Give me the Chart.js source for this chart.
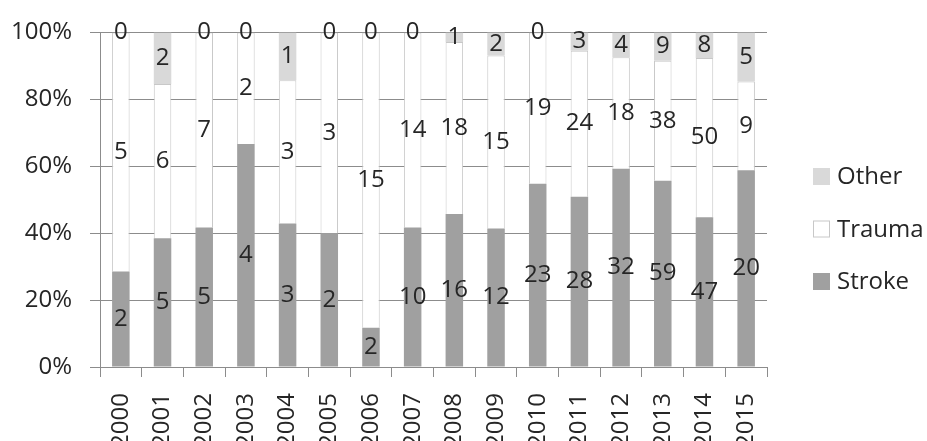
<!DOCTYPE html>
<html>
<head>
<meta charset="utf-8">
<script src="https://cdn.jsdelivr.net/npm/chart.js@4"></script>
<style>
  html, body { margin: 0; padding: 0; background: #fff; }
  #wrap { width: 927px; height: 441px; position: relative; }
</style>
</head>
<body>
<div id="wrap"><canvas id="chart"></canvas></div>
<script>
// Cases per year by cause
const years  = ['2000','2001','2002','2003','2004','2005','2006','2007','2008','2009','2010','2011','2012','2013','2014','2015'];
const stroke = [2, 5, 5, 4, 3, 2, 2, 10, 16, 12, 23, 28, 32, 59, 47, 20];
const trauma = [5, 6, 7, 2, 3, 3, 15, 14, 18, 15, 19, 24, 18, 38, 50, 9];
const other  = [0, 2, 0, 0, 1, 0, 0, 0, 1, 2, 0, 3, 4, 9, 8, 5];

const FONT = "'Open Sans', 'Liberation Sans', sans-serif";
const TEXT = '#262626';
const GRID = '#8c8c8c';

const totals = years.map((_, i) => stroke[i] + trauma[i] + other[i]);
const share = arr => arr.map((v, i) => v / totals[i] * 100);

// Count printed in the middle of each stacked segment
const segmentLabels = {
  id: 'segmentLabels',
  afterDatasetsDraw(chart) {
    const ctx = chart.ctx;
    ctx.save();
    ctx.font = `24px ${FONT}`;
    ctx.fillStyle = TEXT;
    ctx.textAlign = 'center';
    ctx.textBaseline = 'middle';
    chart.data.datasets.forEach((ds, di) => {
      const meta = chart.getDatasetMeta(di);
      meta.data.forEach((bar, j) => {
        const p = bar.getProps(['x', 'y', 'base'], true);
        ctx.fillText(String(ds.counts[j]), p.x, (p.y + p.base) / 2);
      });
    });
    ctx.restore();
  }
};

// Legend on the right, top item is the top of the stack
const sideLegend = {
  id: 'sideLegend',
  afterDraw(chart) {
    const ctx = chart.ctx;
    const items = chart.data.datasets.slice().reverse();
    const boxX = 813, box = 17, firstY = 176.5, step = 52.5;
    ctx.save();
    ctx.font = `24px ${FONT}`;
    ctx.textBaseline = 'middle';
    ctx.textAlign = 'left';
    items.forEach((ds, k) => {
      const cy = firstY + k * step;
      ctx.fillStyle = ds.backgroundColor;
      ctx.fillRect(boxX, cy - box / 2, box, box);
      if (ds.borderWidth) {
        ctx.strokeStyle = ds.borderColor;
        ctx.lineWidth = 1;
        ctx.strokeRect(boxX + 0.5, cy - box / 2 + 0.5, box - 1, box - 1);
      }
      ctx.fillStyle = TEXT;
      ctx.fillText(ds.label, boxX + box + 7, cy + 1);
    });
    ctx.restore();
  }
};

new Chart(document.getElementById('chart'), {
  type: 'bar',
  data: {
    labels: years,
    datasets: [
      { label: 'Stroke', data: share(stroke), counts: stroke, backgroundColor: '#a0a0a0', borderWidth: 0 },
      { label: 'Trauma', data: share(trauma), counts: trauma, backgroundColor: '#ffffff', borderColor: '#c8c8c8', borderWidth: 1 },
      { label: 'Other',  data: share(other),  counts: other,  backgroundColor: '#d9d9d9', borderWidth: 0 }
    ]
  },
  options: {
    responsive: true,
    maintainAspectRatio: false,
    animation: false,
    barPercentage: 0.42,
    categoryPercentage: 1,
    layout: { padding: { top: 27, right: 160, left: 0, bottom: 0 } },
    plugins: {
      legend: { display: false },
      tooltip: { enabled: false }
    },
    scales: {
      x: {
        stacked: true,
        afterFit(s) { s.height = 74; },
        grid: { display: true, drawOnChartArea: false, drawTicks: true, tickLength: 10, offset: true, color: GRID },
        border: { display: true, color: GRID },
        ticks: {
          autoSkip: false, minRotation: 90, maxRotation: 90, padding: 16,
          color: TEXT, font: { family: FONT, size: 24 }
        }
      },
      y: {
        stacked: true,
        min: 0, max: 100,
        afterFit(s) { s.width = 100; },
        grid: { color: GRID, tickLength: 10, drawTicks: true },
        border: { display: true, color: GRID },
        ticks: {
          stepSize: 20, padding: 18,
          color: TEXT, font: { family: FONT, size: 24 },
          callback: v => v + '%'
        }
      }
    }
  },
  plugins: [segmentLabels, sideLegend]
});
</script>
</body>
</html>
